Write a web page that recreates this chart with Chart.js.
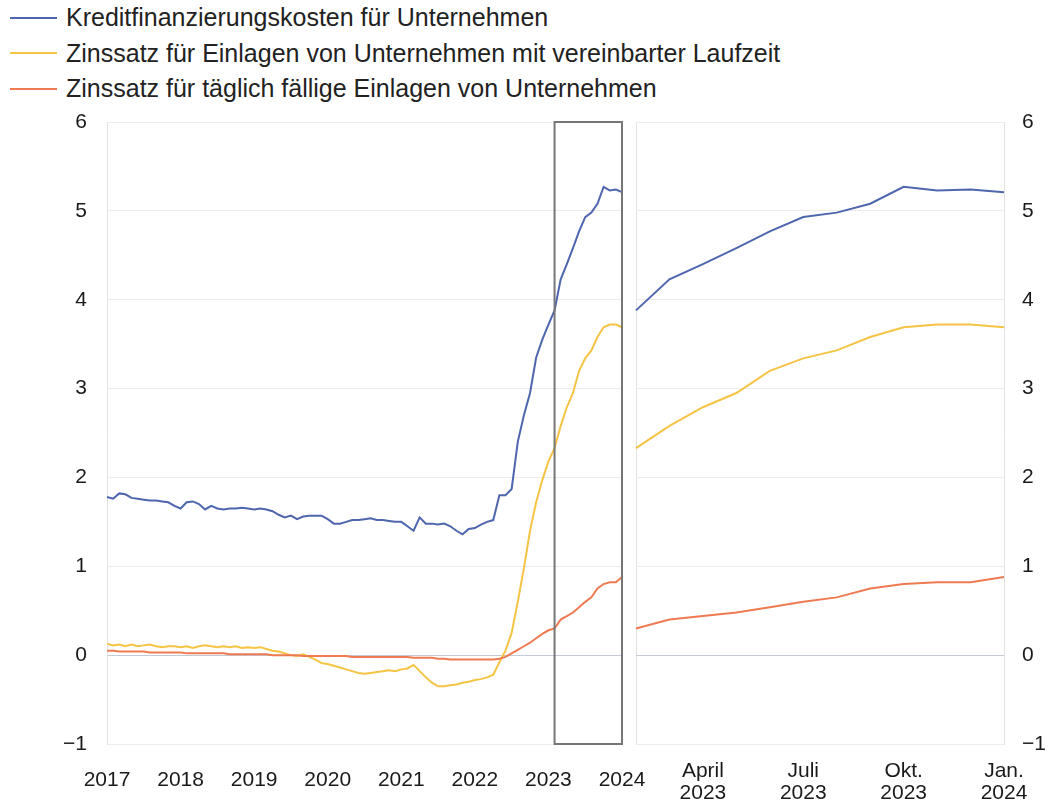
<!DOCTYPE html>
<html>
<head>
<meta charset="utf-8">
<script src="https://cdn.jsdelivr.net/npm/chart.js@4.4.1/dist/chart.umd.min.js"></script>
<style>
body{margin:0;background:#fff;width:1049px;height:811px;overflow:hidden;position:relative;font-family:"Liberation Sans",Arial,sans-serif}
#legend{position:absolute;left:10px;top:0;font-family:"Liberation Sans",Arial,sans-serif;font-size:25px;color:#222}
.item{height:35.5px;display:flex;align-items:center;white-space:nowrap}
.item .l{display:inline-block;width:47px;height:2px;margin-right:9px}
#left{position:absolute;left:0;top:0}
#right{position:absolute;left:620px;top:0}
</style>
</head>
<body>
<div id="legend"></div>
<canvas id="left" width="650" height="811"></canvas>
<canvas id="right" width="429" height="811"></canvas>
<script>
// monatlich, Jan. 2017 bis Jan. 2024
var yearTicks = ['2017','2018','2019','2020','2021','2022','2023','2024']
var seriesNames = [
    'Kreditfinanzierungskosten für Unternehmen',
    'Zinssatz für Einlagen von Unternehmen mit vereinbarter Laufzeit',
    'Zinssatz für täglich fällige Einlagen von Unternehmen'
]
var seriesColors = ['#4e66ad','#f6c444','#ee7a52']

var kredit = [
    1.78,1.76,1.82,1.81,1.77,1.76,1.75,1.74,1.74,1.73,1.72,1.68,
    1.65,1.72,1.73,1.70,1.64,1.68,1.65,1.64,1.65,1.65,1.66,1.65,
    1.64,1.65,1.64,1.62,1.58,1.55,1.57,1.53,1.56,1.57,1.57,1.57,
    1.53,1.48,1.48,1.50,1.52,1.52,1.53,1.54,1.52,1.52,1.51,1.50,
    1.50,1.45,1.40,1.55,1.48,1.48,1.47,1.48,1.45,1.40,1.36,1.42,
    1.43,1.47,1.50,1.52,1.80,1.80,1.87,2.40,2.70,2.95,3.35,3.55,
    3.72,3.88,4.23,4.40,4.58,4.77,4.93,4.98,5.08,5.27,5.23,5.24,5.21
]
var einlagenLaufzeit = [
    0.13,0.11,0.12,0.10,0.12,0.10,0.11,0.12,0.10,0.09,0.10,0.10,
    0.09,0.10,0.08,0.10,0.11,0.10,0.09,0.10,0.09,0.10,0.08,0.09,
    0.08,0.09,0.07,0.05,0.04,0.02,0.00,-0.01,0.01,-0.02,-0.05,-0.09,
    -0.10,-0.12,-0.14,-0.16,-0.18,-0.20,-0.21,-0.20,-0.19,-0.18,-0.17,-0.18,
    -0.16,-0.15,-0.11,-0.18,-0.25,-0.31,-0.35,-0.35,-0.34,-0.33,-0.31,-0.30,
    -0.28,-0.27,-0.25,-0.22,-0.08,0.05,0.25,0.60,0.98,1.40,1.72,1.97,
    2.18,2.33,2.58,2.79,2.95,3.20,3.34,3.43,3.58,3.69,3.72,3.72,3.69
]
var einlagenTaeglich = [
    0.05,0.05,0.04,0.04,0.04,0.04,0.04,0.03,0.03,0.03,0.03,0.03,
    0.03,0.02,0.02,0.02,0.02,0.02,0.02,0.02,0.01,0.01,0.01,0.01,
    0.01,0.01,0.01,0.00,0.00,0.00,0.00,0.00,-0.01,-0.01,-0.01,-0.01,
    -0.01,-0.01,-0.01,-0.01,-0.02,-0.02,-0.02,-0.02,-0.02,-0.02,-0.02,-0.02,
    -0.02,-0.02,-0.03,-0.03,-0.03,-0.03,-0.04,-0.04,-0.05,-0.05,-0.05,-0.05,
    -0.05,-0.05,-0.05,-0.05,-0.04,-0.02,0.02,0.06,0.10,0.14,0.19,0.24,
    0.28,0.30,0.40,0.44,0.48,0.54,0.60,0.65,0.75,0.80,0.82,0.82,0.88
]

// Ausschnitt rechts: Feb. 2023 bis Jan. 2024
var zoomFrom = 73
var zoomTicksAt = [2,5,8,11]
var zoomTickText = [['April','2023'],['Juli','2023'],['Okt.','2023'],['Jan.','2024']]

var months = []
for (var i = 0; i < kredit.length; i++) {
    months.push(yearTicks[Math.floor(i/12)] + '-' + String(i%12+1).padStart(2,'0'))
}

// legende als html
var leg = document.getElementById('legend')
seriesNames.forEach(function(n, i){
    leg.innerHTML += '<div class="item"><span class="l" style="background:'+seriesColors[i]+'"></span>'+n+'</div>'
})

var tickFont = {family:'"Liberation Sans", Arial, sans-serif', size:21}
var minus = function(v){ return String(v).replace('-', '\u2212') }
var gridCol = function(c){ return c.tick && c.tick.value === 0 ? '#c3c9d6' : '#ececec' }
// keine automatische randabstände durch die labels
var noPadX = function(s){ s.height = 67; s.paddingLeft = 0; s.paddingRight = 0 }

function makeSets(from){
    var all = [kredit, einlagenLaufzeit, einlagenTaeglich]
    return all.map(function(d, i){
        return {
            label: seriesNames[i],
            data: d.slice(from),
            borderColor: seriesColors[i],
            borderWidth: 2,
            pointRadius: 0,
            tension: 0
        }
    }).reverse()
}

const zoomBox = {
    id: 'zoomBox',
    afterDatasetsDraw(chart){
        var x = chart.scales.x, y = chart.scales.y, ctx = chart.ctx
        var x0 = x.getPixelForValue(zoomFrom), x1 = x.getPixelForValue(kredit.length-1)
        var y0 = y.getPixelForValue(6), y1 = y.getPixelForValue(-1)
        ctx.save()
        ctx.strokeStyle = '#767676'
        ctx.lineWidth = 2
        ctx.strokeRect(x0, y0, x1-x0, y1-y0)
        ctx.restore()
    }
}

var lctx = document.getElementById('left').getContext('2d')
const chartLeft = new Chart(lctx, {
    type: 'line',
    data: { labels: months, datasets: makeSets(0) },
    options: {
        responsive: false,
        animation: false,
        devicePixelRatio: 1,
        layout: { padding: { top:122, right:28, bottom:0, left:0 } },
        plugins: { legend:{display:false}, tooltip:{enabled:false} },
        scales: {
            x: {
                grid: {display:false},
                border: {display:false},
                ticks: {
                    autoSkip:false, maxRotation:0, padding:16, color:'#1a1a1a', font:tickFont,
                    callback: function(v, i){ return i%12 === 0 ? yearTicks[i/12] : '' }
                },
                afterFit: noPadX
            },
            y: {
                min:-1, max:6,
                ticks: { stepSize:1, padding:20, color:'#1a1a1a', font:tickFont, callback: minus },
                grid: { color:gridCol, drawTicks:false },
                border: { color:'#e2e2e2' },
                afterFit: function(s){ s.width = 107 }
            }
        }
    },
    plugins: [zoomBox]
});

var rctx = document.getElementById('right').getContext('2d')
const chartRight = new Chart(rctx, {
    type: 'line',
    data: { labels: months.slice(zoomFrom), datasets: makeSets(zoomFrom) },
    options: {
        responsive: false,
        animation: false,
        devicePixelRatio: 1,
        layout: { padding: { top:122, right:0, bottom:0, left:16 } },
        plugins: { legend:{display:false}, tooltip:{enabled:false} },
        scales: {
            x: {
                grid: { drawTicks:false, color: function(c){ return c.index === 0 ? '#e2e2e2' : 'rgba(0,0,0,0)' } },
                border: {display:false},
                ticks: {
                    autoSkip:false, maxRotation:0, padding:16, color:'#1a1a1a',
                    font: {family:tickFont.family, size:21, lineHeight:1.05},
                    callback: function(v, i){
                        var k = zoomTicksAt.indexOf(i)
                        return k < 0 ? '' : zoomTickText[k]
                    }
                },
                afterFit: noPadX
            },
            y: {
                position:'right',
                min:-1, max:6,
                ticks: { stepSize:1, padding:18, color:'#1a1a1a', font:tickFont, callback: minus },
                grid: { color:gridCol, drawTicks:false },
                border: { color:'#e2e2e2' },
                afterFit: function(s){ s.width = 45 }
            }
        }
    }
});
</script>
</body>
</html>
